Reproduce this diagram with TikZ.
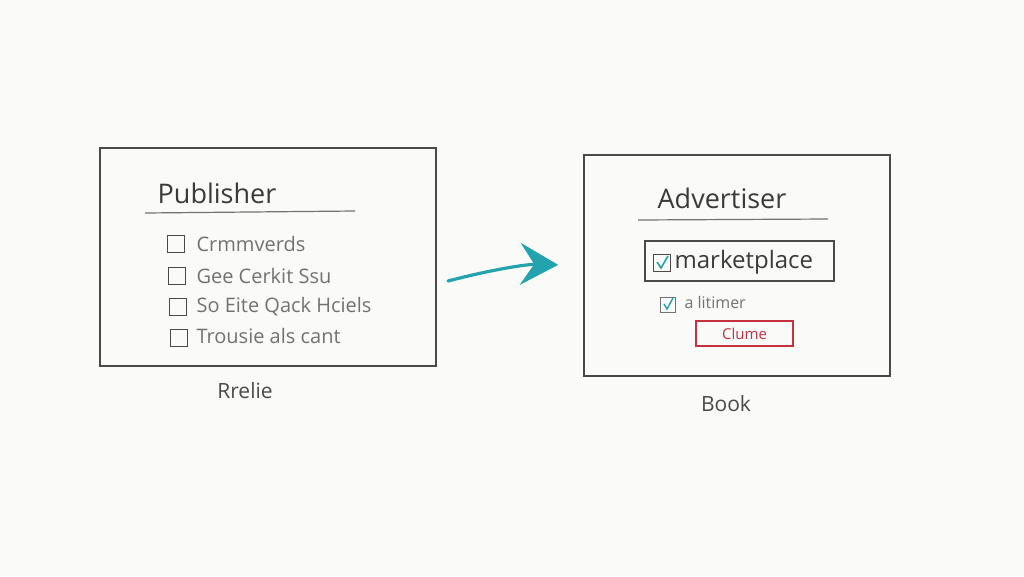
\documentclass[tikz,border=0pt]{standalone}
\usepackage{fontspec}
\setmainfont{Open Sans}
\usetikzlibrary{arrows.meta}
\definecolor{paper}{HTML}{FAFAF8}
\definecolor{pencil}{HTML}{4A4A4A}
\definecolor{faint}{HTML}{727272}
\definecolor{teal}{HTML}{23A3AD}
\definecolor{redink}{HTML}{C43240}
\tikzset{
  frame/.style={draw=pencil, line width=1.6pt, inner sep=0pt},
  tick/.style={draw=pencil, line width=1.5pt, minimum size=17pt, inner sep=0pt},
  item/.style={text=faint, anchor=west, font=\fontsize{20}{22}\selectfont},
  title/.style={text=pencil!80!black, font=\fontsize{27}{30}\selectfont},
}
\begin{document}
\begin{tikzpicture}[x=1pt, y=-1pt]
\fill[paper] (0,0) rectangle (1024,576);
\useasboundingbox (0,0) rectangle (1024,576);
% publisher side
\node[frame, minimum width=336pt, minimum height=218pt] (pub) at (268,257) {};
\node[title] (pubt) at (217,193) {Publisher};
\draw[faint, line width=1.2pt] (145,213) -- (355,211);
\node[tick] (c1) at (176,244) {};
\node[tick] (c2) at (177,276) {};
\node[tick] (c3) at (178,307) {};
\node[tick] (c4) at (179,338) {};
\node[item] (i1) at (193,244) {Crmmverds};
\node[item] (i2) at (193,276) {Gee Cerkit Ssu};
\node[item] (i3) at (193,307) {So Eite Qack Hciels};
\node[item] (i4) at (193,336) {Trousie als cant};
\node[text=pencil, font=\fontsize{21}{24}\selectfont] (publ) at (245,391) {Rrelie};
% advertiser side
\node[frame, minimum width=306pt, minimum height=221pt] (adv) at (737,265.5) {};
\node[title] (advt) at (722,198) {Advertiser};
\draw[faint, line width=1.2pt] (638,220) -- (828,219);
\node[draw=pencil, line width=1.6pt, minimum width=189pt, minimum height=40pt] (mkt) at (739.5,261) {};
\node[tick, minimum size=17pt] (c5) at (662,263) {};
\draw[teal, line width=1.6pt] (657,262) -- (661,268) -- (668,256);
\node[anchor=west, text=pencil!80!black, font=\fontsize{24}{26}\selectfont] (mktt) at (671,262) {marketplace};
\node[tick, draw=faint, line width=1.3pt, minimum size=15pt] (c6) at (668,305) {};
\draw[teal, line width=1.4pt] (664,304) -- (667,309) -- (673,298);
\node[item, font=\fontsize{16}{18}\selectfont] (i5) at (681,302) {a litimer};
\node[draw=redink, line width=1.5pt, minimum width=97pt, minimum height=25pt, text=redink, font=\fontsize{15}{17}\selectfont] (btn) at (744.5,333.5) {Clume};
\node[text=pencil, font=\fontsize{21}{24}\selectfont] (advl) at (726,404) {Book};
% arrow
\coordinate (go) at (448,281);
\draw[teal, line width=3.2pt, line cap=round, shorten >=25pt, -{Stealth[length=38pt, width=42pt, inset=14pt]}] (go) to[bend left=8] (adv.west);
\end{tikzpicture}
\end{document}
